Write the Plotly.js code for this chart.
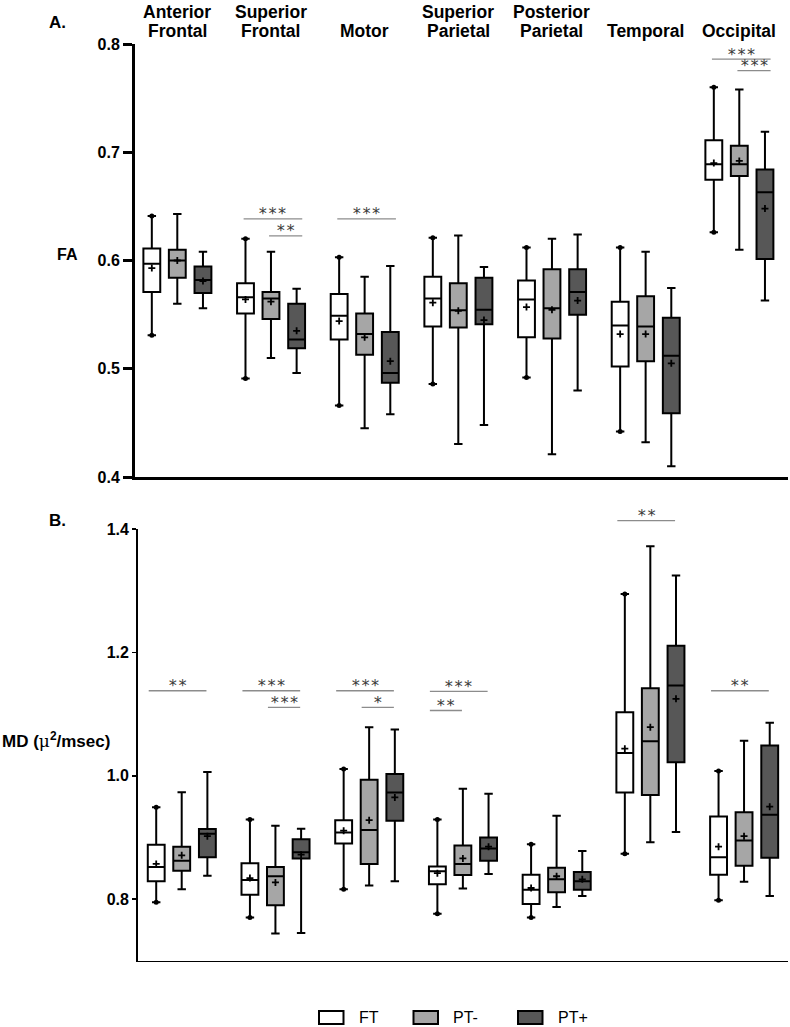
<!DOCTYPE html>
<html>
<head>
<meta charset="utf-8">
<script src="https://cdn.plot.ly/plotly-3.0.1.min.js"></script>
<style>html,body{margin:0;padding:0;background:#fff;}</style>
</head>
<body>
<div id="chart" style="width:790px;height:1027px;"></div>
<script>
// ---------- DATA ----------
const regions = ['Anterior<br>Frontal', 'Superior<br>Frontal', 'Motor', 'Superior<br>Parietal', 'Posterior<br>Parietal', 'Temporal', 'Occipital'];
const groups = ['FT', 'PT-', 'PT+'];

// FA panel (A)
const FA_FT_lo   = [0.531, 0.491, 0.466, 0.486, 0.492, 0.442, 0.626];
const FA_FT_q1   = [0.571, 0.551, 0.527, 0.539, 0.529, 0.502, 0.6745];
const FA_FT_med  = [0.597, 0.566, 0.549, 0.565, 0.564, 0.540, 0.689];
const FA_FT_q3   = [0.611, 0.579, 0.569, 0.585, 0.5815, 0.562, 0.711];
const FA_FT_hi   = [0.641, 0.620, 0.603, 0.621, 0.612, 0.612, 0.760];
const FA_FT_mean = [0.593, 0.564, 0.544, 0.561, 0.557, 0.532, 0.690];

const FA_PTm_lo   = [0.560, 0.510, 0.445, 0.4305, 0.421, 0.432, 0.610];
const FA_PTm_q1   = [0.584, 0.546, 0.513, 0.538, 0.528, 0.507, 0.678];
const FA_PTm_med  = [0.600, 0.565, 0.532, 0.554, 0.556, 0.539, 0.689];
const FA_PTm_q3   = [0.610, 0.571, 0.551, 0.579, 0.592, 0.567, 0.706];
const FA_PTm_hi   = [0.643, 0.608, 0.585, 0.623, 0.620, 0.608, 0.758];
const FA_PTm_mean = [0.600, 0.562, 0.529, 0.5535, 0.5545, 0.532, 0.692];

const FA_PTp_lo   = [0.556, 0.496, 0.458, 0.448, 0.480, 0.410, 0.563];
const FA_PTp_q1   = [0.570, 0.519, 0.487, 0.541, 0.550, 0.459, 0.6015];
const FA_PTp_med  = [0.582, 0.527, 0.496, 0.5545, 0.571, 0.512, 0.663];
const FA_PTp_q3   = [0.5945, 0.560, 0.534, 0.584, 0.592, 0.547, 0.684];
const FA_PTp_hi   = [0.608, 0.574, 0.595, 0.594, 0.624, 0.5745, 0.719];
const FA_PTp_mean = [0.581, 0.535, 0.507, 0.545, 0.563, 0.505, 0.648];

// MD panel (B)
const MD_FT_lo   = [0.795, 0.770, 0.816, 0.776, 0.770, 0.8735, 0.798];
const MD_FT_q1   = [0.829, 0.807, 0.890, 0.824, 0.792, 0.973, 0.8395];
const MD_FT_med  = [0.852, 0.831, 0.908, 0.845, 0.815, 1.037, 0.868];
const MD_FT_q3   = [0.888, 0.858, 0.928, 0.853, 0.8395, 1.103, 0.934];
const MD_FT_hi   = [0.949, 0.929, 1.011, 0.929, 0.889, 1.295, 1.008];
const MD_FT_mean = [0.857, 0.834, 0.911, 0.842, 0.818, 1.044, 0.885];

const MD_PTm_lo   = [0.816, 0.744, 0.822, 0.817, 0.787, 0.892, 0.828];
const MD_PTm_q1   = [0.846, 0.790, 0.857, 0.839, 0.811, 0.969, 0.854];
const MD_PTm_med  = [0.862, 0.837, 0.912, 0.857, 0.832, 1.056, 0.895];
const MD_PTm_q3   = [0.885, 0.852, 0.9935, 0.887, 0.851, 1.142, 0.941];
const MD_PTm_hi   = [0.9735, 0.919, 1.079, 0.979, 0.935, 1.3725, 1.057];
const MD_PTm_mean = [0.871, 0.827, 0.928, 0.866, 0.837, 1.079, 0.902];

const MD_PTp_lo   = [0.838, 0.745, 0.829, 0.8405, 0.805, 0.909, 0.805];
const MD_PTp_q1   = [0.868, 0.866, 0.927, 0.862, 0.815, 1.022, 0.867];
const MD_PTp_med  = [0.906, 0.876, 0.973, 0.882, 0.829, 1.1465, 0.937];
const MD_PTp_q3   = [0.9135, 0.897, 1.003, 0.900, 0.844, 1.211, 1.049];
const MD_PTp_hi   = [1.006, 0.914, 1.075, 0.971, 0.878, 1.325, 1.086];
const MD_PTp_mean = [0.902, 0.872, 0.965, 0.885, 0.832, 1.125, 0.950];

// Significance brackets: [region index, from group, to group, label, level]
const FA_sig = [
  [1, 0, 2, '***', 0.6385], [1, 1, 2, '**', 0.6228],
  [2, 0, 2, '***', 0.6385],
  [6, 0, 2, '***', 0.786], [6, 1, 2, '***', 0.7754]
];
const MD_sig = [
  [0, 0, 2, '**', 1.138],
  [1, 0, 2, '***', 1.138], [1, 1, 2, '***', 1.111],
  [2, 0, 2, '***', 1.138], [2, 1, 2, '*', 1.111],
  [3, 0, 2, '***', 1.137], [3, 0, 1, '**', 1.106],
  [5, 0, 2, '**', 1.414],
  [6, 0, 2, '**', 1.138]
];

// ---------- STYLE / LAYOUT ----------
const W = 790, H = 1027;
const FONT = 'Liberation Sans, Arial, Helvetica, sans-serif';
const fills = ['#ffffff', '#a6a6a6', '#575757'];
const offsets = [-0.272, 0, 0.274];
const boxW = 0.18;

const panels = [
  {xa: 'x', ya: 'y', xr: [-0.4516, 6.52], yr: [0.4, 0.8], dom: [1 - 477 / H, 1 - 44 / H],
   series: [
     [FA_FT_lo, FA_FT_q1, FA_FT_med, FA_FT_q3, FA_FT_hi, FA_FT_mean],
     [FA_PTm_lo, FA_PTm_q1, FA_PTm_med, FA_PTm_q3, FA_PTm_hi, FA_PTm_mean],
     [FA_PTp_lo, FA_PTp_q1, FA_PTp_med, FA_PTp_q3, FA_PTp_hi, FA_PTp_mean]
   ], sig: FA_sig, ext: [-0.02, 0.06]},
  {xa: 'x2', ya: 'y2', xr: [-0.4695, 6.469], yr: [0.7, 1.4], dom: [1 - 960.7 / H, 1 - 529.3 / H],
   series: [
     [MD_FT_lo, MD_FT_q1, MD_FT_med, MD_FT_q3, MD_FT_hi, MD_FT_mean],
     [MD_PTm_lo, MD_PTm_q1, MD_PTm_med, MD_PTm_q3, MD_PTm_hi, MD_PTm_mean],
     [MD_PTp_lo, MD_PTp_q1, MD_PTp_med, MD_PTp_q3, MD_PTp_hi, MD_PTp_mean]
   ], sig: MD_sig, ext: [-0.08, -0.01]}
];

const traces = [];
const shapes = [];
const annotations = [];

panels.forEach(p => {
  p.series.forEach((s, g) => {
    const xs = regions.map((_, i) => i + offsets[g]);
    traces.push({
      type: 'box', name: groups[g], xaxis: p.xa, yaxis: p.ya,
      x: xs, lowerfence: s[0], q1: s[1], median: s[2], q3: s[3], upperfence: s[4],
      width: boxW, whiskerwidth: 0.5, boxpoints: false, boxmean: false,
      fillcolor: fills[g], line: {color: '#000', width: 2},
      hoverinfo: 'skip', showlegend: false
    });
    if (g === 0) {
      traces.push({
        type: 'scatter', mode: 'markers', xaxis: p.xa, yaxis: p.ya,
        x: xs.concat(xs), y: s[0].concat(s[4]),
        marker: {symbol: 'circle', size: 5, color: '#000'},
        hoverinfo: 'skip', showlegend: false
      });
    }
    traces.push({
      type: 'scatter', mode: 'markers', xaxis: p.xa, yaxis: p.ya,
      x: xs, y: s[5],
      marker: {symbol: 'cross-thin', size: 5, line: {color: '#000', width: 1.8}},
      hoverinfo: 'skip', showlegend: false
    });
  });
  const toPaper = v => p.dom[0] + (v - p.yr[0]) / (p.yr[1] - p.yr[0]) * (p.dom[1] - p.dom[0]);
  p.sig.forEach(b => {
    const x0 = b[0] + offsets[b[1]] + p.ext[0];
    const x1 = b[0] + offsets[b[2]] + p.ext[1];
    const yp = toPaper(b[4]);
    shapes.push({type: 'line', xref: p.xa, yref: 'paper', x0: x0, x1: x1, y0: yp, y1: yp,
      line: {color: '#8c8c8c', width: 1.3}});
    annotations.push({xref: p.xa, yref: 'paper', x: (x0 + x1) / 2, y: yp, yshift: 5,
      text: b[3], showarrow: false, xanchor: 'center', yanchor: 'middle',
      font: {family: 'DejaVu Sans Mono, monospace', size: 16, color: '#3a3a3a'}});
  });
});

// Region labels above panel A (one annotation per text line; last line aligned)
const lineY = [11.6, 31];
regions.forEach((r, i) => {
  const lines = r.split('<br>');
  lines.forEach((t, k) => {
    const slot = lines.length === 1 ? 1 : k;
    annotations.push({xref: 'x', yref: 'paper', x: i, y: 1 - lineY[slot] / H, text: t, showarrow: false,
      xanchor: 'center', yanchor: 'middle', align: 'center',
      font: {family: FONT, size: 17.5, weight: 'bold', color: '#000'}});
  });
});

// Panel letters and y-axis titles
annotations.push({xref: 'paper', yref: 'paper', x: 47 / W, y: 1 - 22.7 / H, text: 'A.', showarrow: false,
  xanchor: 'left', yanchor: 'middle', font: {family: FONT, size: 17, weight: 'bold'}});
annotations.push({xref: 'paper', yref: 'paper', x: 47 / W, y: 1 - 520 / H, text: 'B.', showarrow: false,
  xanchor: 'left', yanchor: 'middle', font: {family: FONT, size: 17, weight: 'bold'}});
annotations.push({xref: 'paper', yref: 'paper', x: 55 / W, y: 1 - 255 / H, text: 'FA', showarrow: false,
  xanchor: 'left', yanchor: 'middle', font: {family: FONT, size: 16, weight: 'bold'}});
annotations.push({xref: 'paper', yref: 'paper', x: 0, y: 1 - 740 / H,
  text: 'MD (<span style="font-family:DejaVu Serif;font-weight:normal">μ</span><sup>2</sup>/msec)', showarrow: false,
  xanchor: 'left', yanchor: 'middle', font: {family: FONT, size: 17, weight: 'bold'}});

// Legend (manual)
const legX = [319, 413.5, 518];
groups.forEach((g, i) => {
  shapes.push({type: 'rect', xref: 'paper', yref: 'paper',
    x0: legX[i] / W, x1: (legX[i] + 24.5) / W, y0: 1 - 1024 / H, y1: 1 - 1011 / H,
    fillcolor: fills[i], line: {color: '#000', width: 2}});
  annotations.push({xref: 'paper', yref: 'paper', x: (legX[i] + 37.5) / W, y: 1 - 1017.5 / H,
    text: g, showarrow: false, xanchor: 'left', yanchor: 'middle',
    font: {family: FONT, size: 16, color: '#000'}});
});

const baseX = {showline: true, linecolor: '#000', showticklabels: false, ticks: '', showgrid: false, zeroline: false, fixedrange: true};
const baseY = {showline: true, linecolor: '#000', ticks: 'outside', tickcolor: '#000', showgrid: false, zeroline: false,
  tickformat: '.1f', tickfont: {family: FONT, size: 16, weight: 'bold', color: '#000'}, fixedrange: true};

const layout = {
  width: W, height: H,
  margin: {l: 0, r: 0, t: 0, b: 0, pad: 0, autoexpand: false},
  paper_bgcolor: '#fff', plot_bgcolor: 'rgba(0,0,0,0)',
  showlegend: false, boxmode: 'overlay',
  font: {family: FONT, color: '#000'},
  xaxis: Object.assign({}, baseX, {domain: [135 / W, 788 / W], range: panels[0].xr, linewidth: 3, anchor: 'y'}),
  yaxis: Object.assign({}, baseY, {domain: panels[0].dom, range: panels[0].yr, linewidth: 3, ticklen: 9, tickwidth: 3,
    tickvals: [0.4, 0.5, 0.6, 0.7, 0.8], anchor: 'x'}),
  xaxis2: Object.assign({}, baseX, {domain: [137.7 / W, 788 / W], range: panels[1].xr, linewidth: 1.6, anchor: 'y2'}),
  yaxis2: Object.assign({}, baseY, {domain: panels[1].dom, range: panels[1].yr, linewidth: 1.6, ticklen: 4, tickwidth: 1.6,
    tickvals: [0.8, 1.0, 1.2, 1.4], anchor: 'x2'}),
  shapes: shapes,
  annotations: annotations
};

Plotly.newPlot('chart', traces, layout, {staticPlot: true, displayModeBar: false});
</script>
</body>
</html>
